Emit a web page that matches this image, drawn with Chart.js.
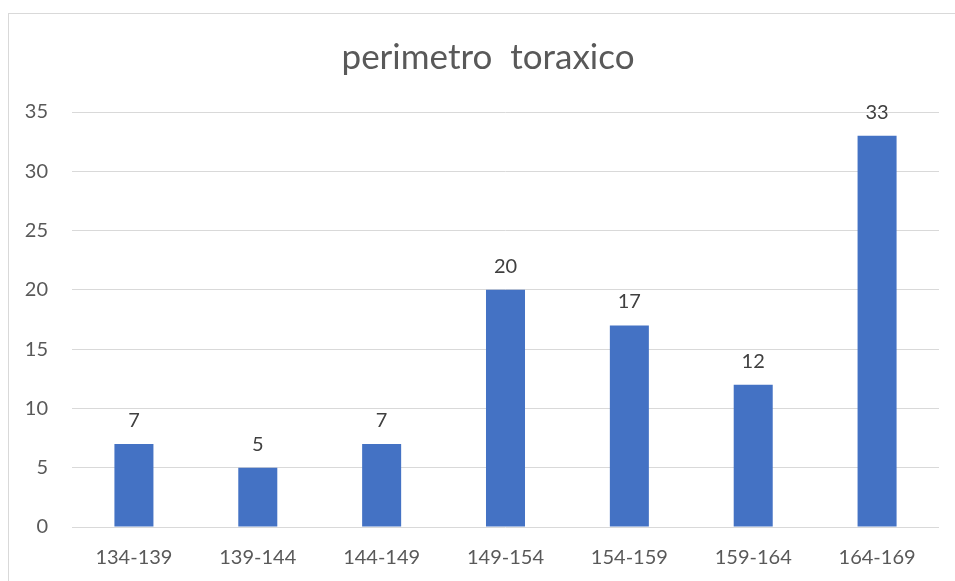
<!DOCTYPE html>
<html>
<head>
<meta charset="utf-8">
<script src="https://cdn.jsdelivr.net/npm/chart.js@4/dist/chart.umd.min.js"></script>
<style>
  html, body { margin: 0; padding: 0; background: #ffffff; overflow: hidden; }
  #frame {
    position: absolute; left: 8px; top: 13px;
    width: 980px; height: 600px;
    border: 1px solid #d9d9d9; box-sizing: border-box;
  }
  #wrap { position: absolute; left: 0; top: 0; width: 955px; height: 581px; }
</style>
</head>
<body>
<div id="frame"></div>
<div id="wrap"><canvas id="chart" width="955" height="581"></canvas></div>
<script>
// Class intervals (chest perimeter) and their frequencies
const categories = ['134-139', '139-144', '144-149', '149-154', '154-159', '159-164', '164-169'];
const counts = [7, 5, 7, 20, 17, 12, 33];
const yTicks = [0, 5, 10, 15, 20, 25, 30, 35];
const chartTitle = 'perimetro  toraxico';

const FONT = 'Lato, Carlito, Calibri, sans-serif';

// Title centred on the framed chart box rather than the plot
const framedTitle = {
  id: 'framedTitle',
  afterDraw(chart) {
    const ctx = chart.ctx;
    ctx.save();
    ctx.font = '35px ' + FONT;
    ctx.fillStyle = '#595959';
    ctx.textAlign = 'center';
    ctx.textBaseline = 'middle';
    ctx.fillText(chartTitle, 488, 58);
    ctx.restore();
  }
};

// Writes each bar's value above it
const valueLabels = {
  id: 'valueLabels',
  afterDatasetsDraw(chart) {
    const ctx = chart.ctx;
    const meta = chart.getDatasetMeta(0);
    const values = chart.data.datasets[0].data;
    ctx.save();
    ctx.font = '20px ' + FONT;
    ctx.fillStyle = '#404040';
    ctx.textAlign = 'center';
    ctx.textBaseline = 'alphabetic';
    meta.data.forEach((bar, i) => {
      ctx.fillText(String(values[i]), bar.x, bar.y - 17);
    });
    ctx.restore();
  }
};

new Chart(document.getElementById('chart'), {
  type: 'bar',
  data: {
    labels: categories,
    datasets: [{
      data: counts,
      backgroundColor: '#4472c4',
      borderWidth: 0,
      categoryPercentage: 1,
      barPercentage: 0.315
    }]
  },
  options: {
    responsive: false,
    animation: false,
    devicePixelRatio: 1,
    layout: { padding: { top: 112, right: 16, bottom: 0, left: 0 } },
    plugins: {
      legend: { display: false },
      tooltip: { enabled: false },
      title: { display: false }
    },
    scales: {
      x: {
        grid: { display: false, drawTicks: false },
        border: { display: false },
        ticks: {
          color: '#595959',
          font: { family: FONT, size: 20 },
          padding: 19,
          maxRotation: 0
        },
        afterFit(scale) { scale.height = 54; }
      },
      y: {
        min: 0,
        max: 35,
        afterBuildTicks(scale) { scale.ticks = yTicks.map(v => ({ value: v })); },
        grid: { color: '#d9d9d9', lineWidth: 1, drawTicks: false },
        border: { display: false },
        ticks: {
          color: '#595959',
          font: { family: FONT, size: 20 },
          padding: 24
        },
        afterFit(scale) { scale.width = 72; }
      }
    }
  },
  plugins: [valueLabels, framedTitle]
});
</script>
</body>
</html>
